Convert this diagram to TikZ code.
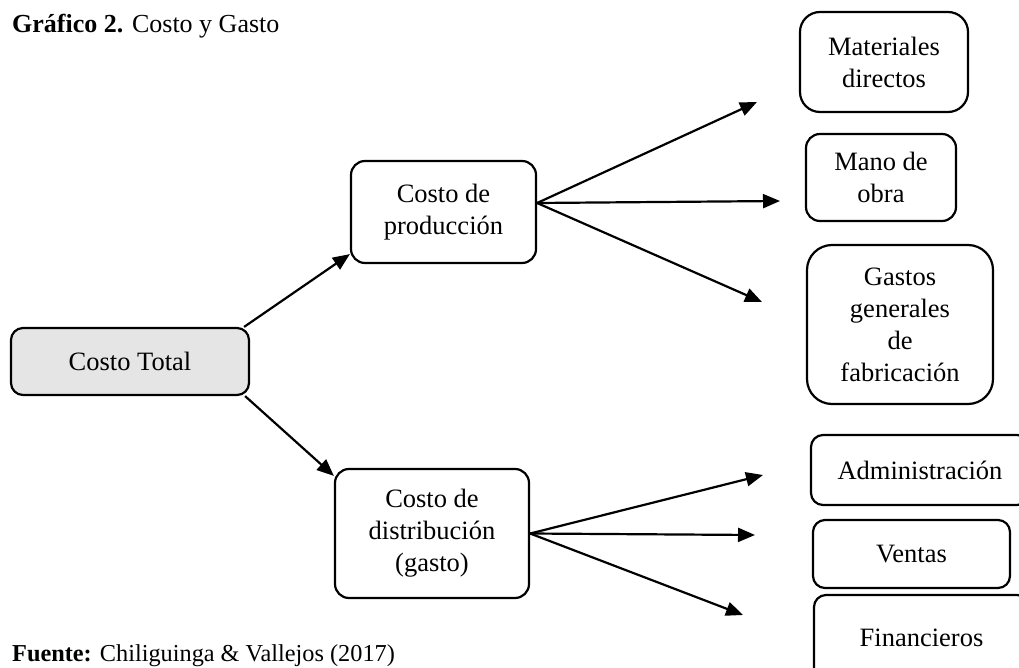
\documentclass[tikz,border=0pt]{standalone}
\usepackage{fontspec}
\setmainfont{Liberation Serif}
\usetikzlibrary{arrows.meta}

\begin{document}
\begin{tikzpicture}[x=1pt,y=-1pt,line join=round,
    box/.style={draw,line width=2.2pt,rounded corners=14pt,align=center,
      inner sep=0pt,font=\fontsize{26.5}{32}\selectfont},
    caption/.style={anchor=base west,inner sep=0pt},
    arr/.style={line width=2.2pt,-{Triangle[length=17pt,width=14pt]}}]
    \useasboundingbox (0,0) rectangle (1019,668);

    % Title and source
    \node[caption,font=\fontsize{26}{30}\selectfont] (title) at (12,33) {\textbf{Gráfico 2.} Costo y Gasto};
    \node[caption,font=\fontsize{24.3}{30}\selectfont] (src) at (12,661) {\textbf{Fuente:} Chiliguinga \& Vallejos (2017)};

    % Left part
    \node[box,fill=black!10,rounded corners=12pt,minimum width=238pt,minimum height=67pt] (total) at (130,361.5) {Costo Total};
    \node[box,minimum width=185pt,minimum height=102pt] (prod) at (443.5,212) {Costo de\\producción};
    \node[box,minimum width=194pt,minimum height=129pt] (dist) at (432,533.5) {Costo de\\distribución\\(gasto)};

    % Right part
    \node[box,rounded corners=20pt,minimum width=168pt,minimum height=100pt] (mat) at (884,62) {Materiales\\directos};
    \node[box,minimum width=150pt,minimum height=87pt] (mano) at (881,177.5) {Mano de\\obra};
    \node[box,rounded corners=25pt,minimum width=186pt,minimum height=159pt] (gastos) at (900,324.5) {Gastos\\generales\\de\\fabricación};
    \node[box,rounded corners=12pt,minimum width=218pt,minimum height=70pt] (adm) at (920,470) {Administración};
    \node[box,rounded corners=12pt,minimum width=197pt,minimum height=68pt] (ven) at (911.5,554) {Ventas};
    \node[box,rounded corners=12pt,minimum width=215pt,minimum height=85pt] (fin) at (921.5,637.5) {Financieros};

    % Free arrow ends
    \coordinate (tmat) at (757,102);
    \coordinate (tmano) at (780,201);
    \coordinate (tgas) at (762,302);
    \coordinate (tadm) at (763,475);
    \coordinate (tven) at (755,535);
    \coordinate (tfin) at (743,615);

    % Arrows
    \draw[arr] ([xshift=-6pt]total.north east) -- ([yshift=10pt]prod.south west);
    \draw[arr] ([xshift=-5pt]total.south east) -- ([yshift=-8pt]dist.north west);
    \foreach \to in {tmat,tmano,tgas} \draw[arr] ([yshift=9pt]prod.east) -- (\to);
    \foreach \to in {tadm,tven,tfin} \draw[arr] (dist.east) -- (\to);
\end{tikzpicture}
\end{document}
